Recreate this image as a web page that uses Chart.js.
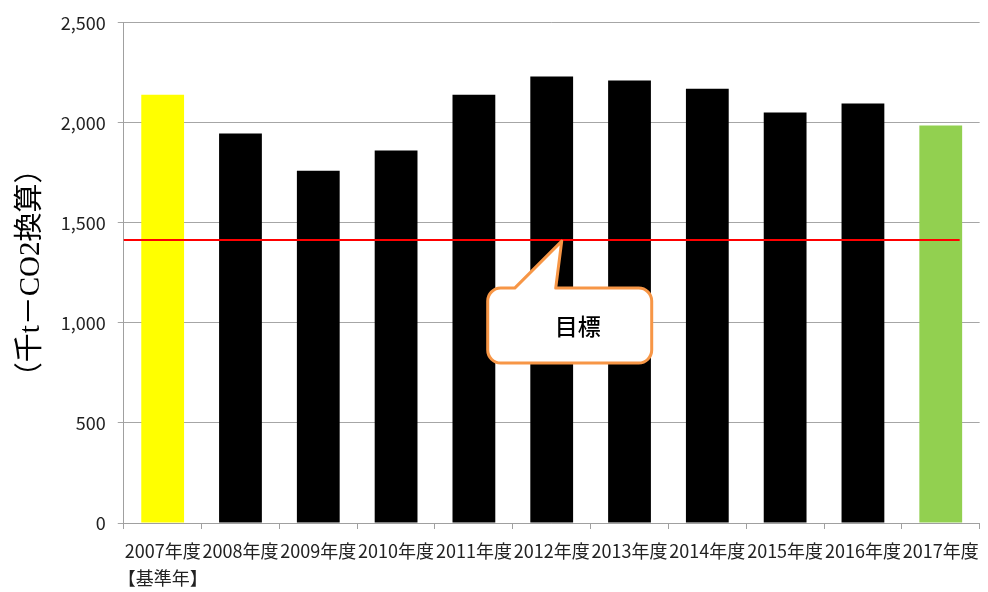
<!DOCTYPE html>
<html>
<head>
<meta charset="utf-8">
<script src="https://cdn.jsdelivr.net/npm/chart.js@4.4.1/dist/chart.umd.min.js"></script>
<style>
  body { margin: 0; background: #fff; }
  #wrap { width: 988px; height: 592px; }
</style>
</head>
<body>
<div id="wrap"><canvas id="co2Chart"></canvas></div>
<script>
// data
const years = ['2007年度', '2008年度', '2009年度', '2010年度', '2011年度', '2012年度',
    '2013年度', '2014年度', '2015年度', '2016年度', '2017年度']
const emissions = [2141, 1947, 1760, 1862, 2141, 2231, 2211, 2171, 2052, 2097, 1987]
const barColors = ['#FFFF00', '#000000', '#000000', '#000000', '#000000', '#000000',
    '#000000', '#000000', '#000000', '#000000', '#92D050']
const target = 1414
const targetLabel = '目標'
const yTicks = [0, 500, 1000, 1500, 2000, 2500]

const labels = years.map((y, i) => i === 0 ? [y, '【基準年】'] : y)

// red target line + callout
const targetPlugin = {
    id: 'target',
    afterDatasetsDraw(chart) {
        const ctx = chart.ctx
        const xs = chart.scales.x
        const ys = chart.scales.y
        const yT = ys.getPixelForValue(target)
        ctx.save()
        ctx.strokeStyle = '#FF0000'
        ctx.lineWidth = 2
        ctx.beginPath()
        ctx.moveTo(chart.chartArea.left, yT)
        ctx.lineTo(chart.chartArea.right - 20, yT)
        ctx.stroke()

        // callout
        const tipX = xs.getPixelForValue(5) + 10
        const tipY = yT + 1
        const bx = tipX - 74, by = yT + 48, bw = 164, bh = 75, r = 13
        ctx.beginPath()
        ctx.moveTo(bx + r, by)
        ctx.lineTo(tipX - 47, by)
        ctx.lineTo(tipX, tipY)
        ctx.lineTo(tipX - 6, by)
        ctx.lineTo(bx + bw - r, by)
        ctx.arcTo(bx + bw, by, bx + bw, by + r, r)
        ctx.lineTo(bx + bw, by + bh - r)
        ctx.arcTo(bx + bw, by + bh, bx + bw - r, by + bh, r)
        ctx.lineTo(bx + r, by + bh)
        ctx.arcTo(bx, by + bh, bx, by + bh - r, r)
        ctx.lineTo(bx, by + r)
        ctx.arcTo(bx, by, bx + r, by, r)
        ctx.closePath()
        ctx.fillStyle = '#FFFFFF'
        ctx.fill()
        ctx.strokeStyle = '#F79646'
        ctx.lineWidth = 3
        ctx.lineJoin = 'round'
        ctx.stroke()

        ctx.fillStyle = '#000'
        ctx.font = '500 23px "Noto Sans CJK JP"'
        ctx.textAlign = 'center'
        ctx.textBaseline = 'middle'
        ctx.fillText(targetLabel, bx + bw / 2 + 8, by + bh / 2 + 1)
        ctx.restore()
    }
}

new Chart(document.getElementById('co2Chart'), {
    type: 'bar',
    data: {
        labels: labels,
        datasets: [{
            data: emissions,
            backgroundColor: barColors,
            borderWidth: 0,
            barPercentage: 0.55,
            categoryPercentage: 1
        }]
    },
    options: {
        responsive: true,
        maintainAspectRatio: false,
        animation: false,
        layout: { padding: { top: -1, right: 6, left: 14, bottom: -9 } },
        plugins: {
            legend: { display: false },
            tooltip: { enabled: false }
        },
        scales: {
            x: {
                grid: {
                    drawOnChartArea: false,
                    drawTicks: true,
                    tickLength: 6,
                    color: '#A0A0A0',
                    offset: true
                },
                border: { color: '#A0A0A0', width: 1 },
                ticks: {
                    color: '#222',
                    font: { family: '"Noto Sans CJK JP"', size: 18, lineHeight: 1.5 },
                    maxRotation: 0,
                    autoSkip: false,
                    padding: 9
                }
            },
            y: {
                min: 0,
                max: 2500,
                afterBuildTicks: axis => { axis.ticks = yTicks.map(v => ({ value: v })) },
                grid: { color: '#A6A6A6', tickLength: 6 },
                border: { color: '#A0A0A0' },
                ticks: {
                    color: '#222',
                    font: { family: '"Noto Sans CJK JP"', size: 18 },
                    padding: 12,
                    callback: v => v.toLocaleString('en-US')
                },
                title: {
                    display: true,
                    text: '（千t－CO2換算）',
                    color: '#000',
                    font: { family: '"Liberation Serif", "Noto Sans CJK JP"', size: 29 },
                    padding: { top: 0, bottom: 0 }
                }
            }
        }
    },
    plugins: [targetPlugin]
})
</script>
</body>
</html>
